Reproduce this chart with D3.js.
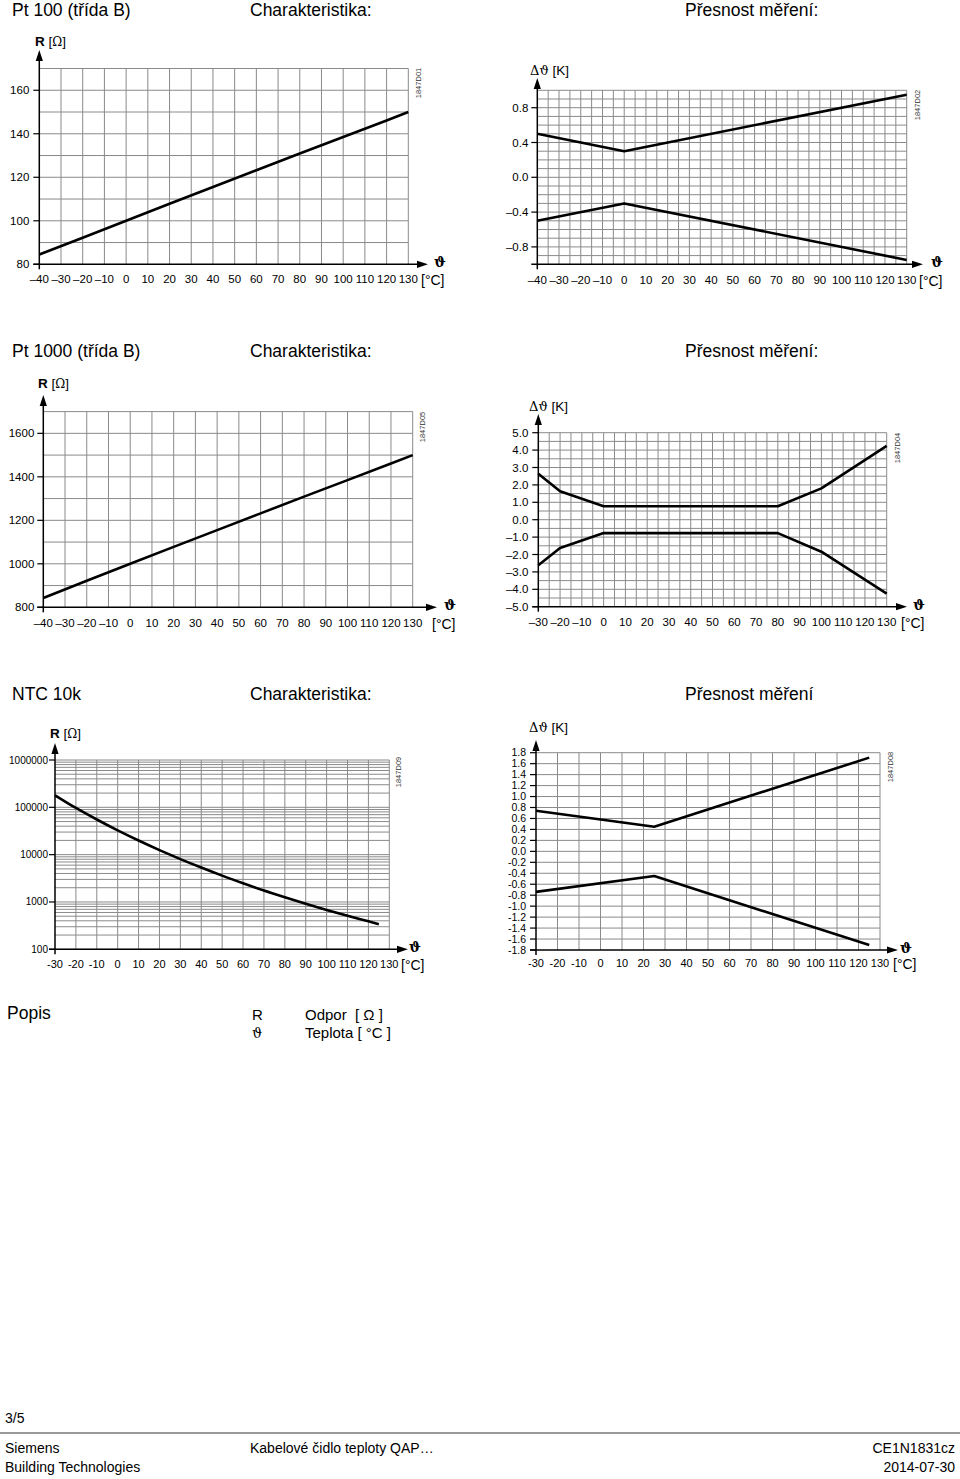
<!DOCTYPE html>
<html><head><meta charset="utf-8">
<script src="https://cdn.jsdelivr.net/npm/d3@7"></script>
<style>
html,body{margin:0;padding:0;background:#fff;}
svg{display:block;font-family:"Liberation Sans",Arial,sans-serif;}
</style></head><body>
<svg id="c" width="960" height="1479"></svg>
<script>
// ---------- DATA ----------
const pt100Temp = [-40, -20, 0, 20, 40, 60, 80, 100, 120, 130];
const pt100R = [84.5, 92.2, 100, 107.8, 115.5, 123.2, 130.9, 138.5, 146.1, 150];
const pt100AccTemp = [-40, 0, 130];
const pt100AccUpper = [0.5, 0.3, 0.95];
const pt100AccLower = [-0.5, -0.3, -0.95];

const pt1000Temp = [-40, -20, 0, 20, 40, 60, 80, 100, 120, 130];
const pt1000R = [843, 922, 1000, 1078, 1155, 1232, 1309, 1385, 1461, 1500];
const pt1000AccTemp = [-30, -20, 0, 80, 100, 130];
const pt1000AccUpper = [2.64, 1.63, 0.77, 0.77, 1.8, 4.24];
const pt1000AccLower = [-2.62, -1.63, -0.77, -0.77, -1.84, -4.25];

const ntcTemp = [-30, -20, -10, 0, 10, 20, 25, 30, 40, 50, 60, 70, 80, 90, 100, 110, 120, 125];
const ntcR = [180000, 97000, 55300, 32600, 19900, 12500, 10000, 8060, 5330, 3600, 2490, 1750, 1260, 920, 680, 510, 390, 340];
const ntcAccTemp = [-30, 25, 125];
const ntcAccUpper = [0.74, 0.45, 1.71];
const ntcAccLower = [-0.74, -0.45, -1.71];

const xTicksPt = [-40, -30, -20, -10, 0, 10, 20, 30, 40, 50, 60, 70, 80, 90, 100, 110, 120, 130];
const xTicks30 = [-30, -20, -10, 0, 10, 20, 30, 40, 50, 60, 70, 80, 90, 100, 110, 120, 130];
const yTicksPt100 = [80, 100, 120, 140, 160];
const yTicksPt100Acc = [-0.8, -0.4, 0.0, 0.4, 0.8];
const yTicksPt1000 = [800, 1000, 1200, 1400, 1600];
const yTicksPt1000Acc = [-5, -4, -3, -2, -1, 0, 1, 2, 3, 4, 5];
const yTicksNtc = [100, 1000, 10000, 100000, 1000000];
const yTicksNtcAcc = [-1.8, -1.6, -1.4, -1.2, -1.0, -0.8, -0.6, -0.4, -0.2, 0.0, 0.2, 0.4, 0.6, 0.8, 1.0, 1.2, 1.4, 1.6, 1.8];

const sectionTitles = ["Pt 100 (třída B)", "Pt 1000 (třída B)", "NTC 10k"];
const charTitles = ["Charakteristika:", "Charakteristika:", "Charakteristika:"];
const accTitles = ["Přesnost měření:", "Přesnost měření:", "Přesnost měření"];
const figCodes = ["1847D01", "1847D02", "1847D05", "1847D04", "1847D09", "1847D08"];

// ---------- DRAWING ----------
const svg = d3.select("#c");
const GRID = "#8a8a8a";
const dash = v => (v < 0 ? "\u2013" + Math.abs(v) : "" + v);

function arrow(g, x, y, dir) {
  const L = 11, W = 3.6;
  let pts;
  if (dir === "up") pts = [[x, y], [x - W, y + L], [x + W, y + L]];
  else pts = [[x, y], [x - L, y - W], [x - L, y + W]];
  g.append("polygon").attr("points", pts.map(p => p.join(",")).join(" ")).attr("fill", "#000");
}

function chart(c) {
  const g = svg.append("g");
  const x = d3.scaleLinear().domain(c.xDomain).range(c.xRange);
  const y = (c.log ? d3.scaleLog() : d3.scaleLinear()).domain(c.yDomain).range(c.yRange);
  const [x0, x1] = c.xRange, [yb, yt] = c.yRange;

  g.append("g").selectAll("line").data(c.yGrid).join("line")
    .attr("x1", x0).attr("x2", x1).attr("y1", d => y(d)).attr("y2", d => y(d))
    .attr("stroke", GRID).attr("stroke-width", 1);
  g.append("g").selectAll("line").data(c.xGrid).join("line")
    .attr("x1", d => x(d)).attr("x2", d => x(d)).attr("y1", yt).attr("y2", yb)
    .attr("stroke", GRID).attr("stroke-width", 1);

  g.append("g").selectAll("line").data(c.yTicks).join("line")
    .attr("x1", x0 - 6).attr("x2", x0).attr("y1", d => y(d)).attr("y2", d => y(d))
    .attr("stroke", "#000").attr("stroke-width", 1.2);
  g.append("g").selectAll("text").data(c.yTicks).join("text")
    .attr("x", x0 - c.yLabelGap).attr("y", d => y(d)).attr("dy", "0.35em")
    .attr("text-anchor", "end").attr("font-size", c.yFont).text(c.yFmt);

  g.append("g").selectAll("text").data(c.xTicks).join("text")
    .attr("x", d => x(d)).attr("y", yb + c.xLabelDy).attr("dy", "0.35em")
    .attr("text-anchor", "middle").attr("font-size", c.xFont).text(c.xFmt);

  g.append("line").attr("x1", x0).attr("x2", x0).attr("y1", yb + 5).attr("y2", c.yArrow + 4)
    .attr("stroke", "#000").attr("stroke-width", 1.5);
  arrow(g, x0, c.yArrow, "up");
  g.append("line").attr("x1", x0 - 6).attr("x2", c.xArrow - 4).attr("y1", yb).attr("y2", yb)
    .attr("stroke", "#000").attr("stroke-width", 1.5);
  arrow(g, c.xArrow, yb, "right");

  g.append("text").attr("x", c.thetaX).attr("y", yb - 2).attr("dy", "0.35em").attr("text-anchor", "middle")
    .attr("font-family", "DejaVu Serif").attr("font-weight", "bold").attr("font-size", 14).text("\u03D1");
  g.append("text").attr("x", c.unitX).attr("y", yb + c.xLabelDy + 1).attr("dy", "0.35em")
    .attr("font-size", 14).text("[\u00B0C]");

  const yl = g.append("text").attr("x", c.yLabX).attr("y", c.yLabY).attr("dy", "0.35em").attr("font-size", 13.5);
  if (c.yLabel === "R") {
    yl.append("tspan").attr("font-weight", "bold").text("R\u00A0");
    yl.append("tspan").text("[");
    yl.append("tspan").attr("font-family", "DejaVu Serif").attr("font-size", 12).text("\u03A9");
    yl.append("tspan").text("]");
  } else {
    yl.append("tspan").attr("font-family", "DejaVu Serif").attr("font-size", 13).text("\u0394\u03D1");
    yl.append("tspan").text("\u00A0[K]");
  }

  g.append("text").attr("transform", `translate(${c.codeX},${c.codeY}) rotate(-90)`)
    .attr("text-anchor", "middle").attr("dy", "0.35em").attr("font-size", 7.5).attr("fill", "#333").text(c.code);

  const line = d3.line().x(d => x(d[0])).y(d => y(d[1])).curve(c.curve || d3.curveLinear);
  c.series.forEach(s => {
    g.append("path").attr("d", line(s)).attr("fill", "none").attr("stroke", "#000")
      .attr("stroke-width", 2.6).attr("stroke-linejoin", "round");
  });
}

const zip = (a, b) => a.map((v, i) => [v, b[i]]);
const range = (a, b, s) => d3.range(Math.round((b - a) / s) + 1).map(i => +(a + i * s).toFixed(4));
const ntcGrid = [];
[100, 1000, 10000, 100000].forEach(d => { for (let k = 1; k <= 9; k++) ntcGrid.push(d * k); });
ntcGrid.push(1000000);

chart({
  xDomain: [-40, 130], xRange: [39.3, 408.3], yDomain: [80, 170], yRange: [264.3, 68.5],
  xGrid: range(-30, 130, 10), yGrid: range(90, 170, 10), yTicks: yTicksPt100, xTicks: xTicksPt,
  yFmt: d => d, xFmt: dash, yFont: 11.5, xFont: 11.5, yLabelGap: 10, xLabelDy: 15,
  yArrow: 50, xArrow: 428, thetaX: 440, unitX: 421, yLabel: "R", yLabX: 35, yLabY: 41,
  code: figCodes[0], codeX: 418, codeY: 83,
  series: [zip(pt100Temp, pt100R)]
});
chart({
  xDomain: [-40, 130], xRange: [537.3, 906.7], yDomain: [-1, 1], yRange: [264.3, 90.3],
  xGrid: range(-35, 130, 5), yGrid: range(-0.9, 1.0, 0.1), yTicks: yTicksPt100Acc, xTicks: xTicksPt,
  yFmt: d => (d < 0 ? "\u2013" : "") + Math.abs(d).toFixed(1), xFmt: dash, yFont: 11.5, xFont: 11.5, yLabelGap: 9, xLabelDy: 15.5,
  yArrow: 78, xArrow: 923, thetaX: 937, unitX: 919, yLabel: "D", yLabX: 530, yLabY: 70,
  code: figCodes[1], codeX: 917, codeY: 105,
  series: [zip(pt100AccTemp, pt100AccUpper), zip(pt100AccTemp, pt100AccLower)]
});
chart({
  xDomain: [-40, 130], xRange: [43.3, 412.7], yDomain: [800, 1700], yRange: [607.3, 411.6],
  xGrid: range(-30, 130, 10), yGrid: range(900, 1700, 100), yTicks: yTicksPt1000, xTicks: xTicksPt,
  yFmt: d => d, xFmt: dash, yFont: 11.5, xFont: 11.5, yLabelGap: 9, xLabelDy: 15.5,
  yArrow: 395, xArrow: 437, thetaX: 450, unitX: 432, yLabel: "R", yLabX: 38, yLabY: 383,
  code: figCodes[2], codeX: 422, codeY: 427,
  series: [zip(pt1000Temp, pt1000R)]
});
chart({
  xDomain: [-30, 130], xRange: [538.3, 886.7], yDomain: [-5, 5], yRange: [606.7, 432.7],
  xGrid: range(-25, 130, 5), yGrid: range(-4.5, 5, 0.5), yTicks: yTicksPt1000Acc, xTicks: xTicks30,
  yFmt: d => (d < 0 ? "\u2013" : "") + Math.abs(d).toFixed(1), xFmt: dash, yFont: 11.5, xFont: 11.5, yLabelGap: 10, xLabelDy: 15.5,
  yArrow: 414, xArrow: 907, thetaX: 919, unitX: 901, yLabel: "D", yLabX: 529, yLabY: 406,
  code: figCodes[3], codeX: 897, codeY: 448,
  series: [zip(pt1000AccTemp, pt1000AccUpper), zip(pt1000AccTemp, pt1000AccLower)]
});
chart({
  log: true,
  xDomain: [-30, 130], xRange: [55, 389.3], yDomain: [100, 1000000], yRange: [949.3, 760],
  xGrid: range(-20, 130, 10), yGrid: ntcGrid, yTicks: yTicksNtc, xTicks: xTicks30,
  yFmt: d => d, xFmt: d => "" + d, yFont: 10, xFont: 11, yLabelGap: 7, xLabelDy: 15,
  yArrow: 743, xArrow: 408, thetaX: 415, unitX: 401, yLabel: "R", yLabX: 50, yLabY: 733,
  code: figCodes[4], codeX: 398, codeY: 772,
  curve: d3.curveMonotoneX,
  series: [zip(ntcTemp, ntcR)]
});
chart({
  xDomain: [-30, 130], xRange: [536, 880], yDomain: [-1.8, 1.8], yRange: [950, 752.7],
  xGrid: range(-20, 130, 10), yGrid: range(-1.6, 1.8, 0.2), yTicks: yTicksNtcAcc, xTicks: xTicks30,
  yFmt: d => d.toFixed(1), xFmt: d => "" + d, yFont: 10.5, xFont: 11, yLabelGap: 10, xLabelDy: 13.5,
  yArrow: 740, xArrow: 898, thetaX: 906, unitX: 893, yLabel: "D", yLabX: 529, yLabY: 727,
  code: figCodes[5], codeX: 890, codeY: 767,
  series: [zip(ntcAccTemp, ntcAccUpper), zip(ntcAccTemp, ntcAccLower)]
});

// ---------- TITLES ----------
const titleBase = [15.5, 357, 700];
titleBase.forEach((yb, i) => {
  svg.append("text").attr("x", 12).attr("y", yb).attr("font-size", 17.5).text(sectionTitles[i]);
  svg.append("text").attr("x", 250).attr("y", yb).attr("font-size", 17.5).text(charTitles[i]);
  svg.append("text").attr("x", 685).attr("y", yb).attr("font-size", 17.5).text(accTitles[i]);
});

// ---------- LEGEND ----------
svg.append("text").attr("x", 7).attr("y", 1019).attr("font-size", 17.5).text("Popis");
svg.append("text").attr("x", 252).attr("y", 1020).attr("font-size", 15).text("R");
svg.append("text").attr("x", 305).attr("y", 1020).attr("font-size", 15).text("Odpor\u00A0\u00A0[\u00A0\u03A9\u00A0]");
svg.append("text").attr("x", 252).attr("y", 1038).attr("font-size", 14).attr("font-family", "DejaVu Serif").text("\u03D1");
svg.append("text").attr("x", 305).attr("y", 1038).attr("font-size", 15).text("Teplota\u00A0[\u00A0\u00B0C\u00A0]");

// ---------- FOOTER ----------
svg.append("text").attr("x", 5).attr("y", 1423).attr("font-size", 14).text("3/5");
svg.append("line").attr("x1", 0).attr("x2", 960).attr("y1", 1433).attr("y2", 1433).attr("stroke", "#777").attr("stroke-width", 1.5);
svg.append("text").attr("x", 5).attr("y", 1453).attr("font-size", 14).text("Siemens");
svg.append("text").attr("x", 5).attr("y", 1472).attr("font-size", 14).text("Building Technologies");
svg.append("text").attr("x", 250).attr("y", 1453).attr("font-size", 14).text("Kabelové čidlo teploty QAP\u2026");
svg.append("text").attr("x", 955).attr("y", 1453).attr("font-size", 14).attr("text-anchor", "end").text("CE1N1831cz");
svg.append("text").attr("x", 955).attr("y", 1472).attr("font-size", 14).attr("text-anchor", "end").text("2014-07-30");
</script>
</body></html>
